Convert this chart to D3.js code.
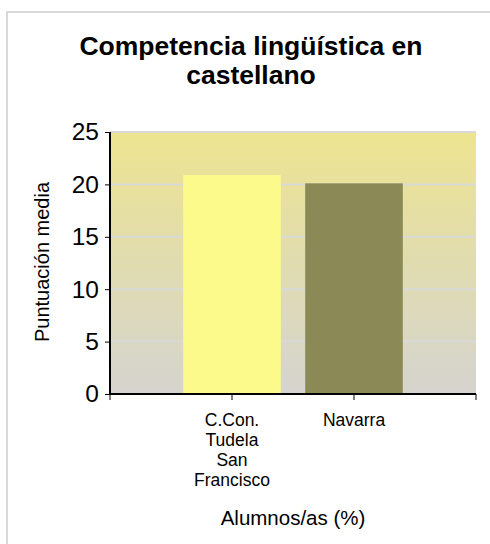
<!DOCTYPE html>
<html>
<head>
<meta charset="utf-8">
<script src="https://cdn.jsdelivr.net/npm/d3@7"></script>
<style>
  body { margin: 0; background: #fff; }
  svg { display: block; font-family: "Liberation Sans", Arial, sans-serif; }
</style>
</head>
<body>
<div id="chart"></div>
<script>
(function() {
  // chart data
  var categories = ['C.Con. Tudela San Francisco', 'Navarra'];
  var categoryLines = [['C.Con.', 'Tudela', 'San', 'Francisco'], ['Navarra']];
  var values = [20.9, 20.1];
  var barColors = ['#fdfa8c', '#8b8a56'];
  var yTicks = [0, 5, 10, 15, 20, 25];

  var width = 490;
  var height = 544;
  var margin = { top: 132, right: 14, bottom: 150, left: 110 };
  var plotW = width - margin.left - margin.right;
  var plotH = height - margin.top - margin.bottom;

  var svg = d3.select('#chart').append('svg')
    .attr('width', width)
    .attr('height', height);

  // gradient for plot background
  var grad = svg.append('defs').append('linearGradient')
    .attr('id', 'bg')
    .attr('x1', 0).attr('y1', 0).attr('x2', 0).attr('y2', 1);
  grad.append('stop').attr('offset', '0%').attr('stop-color', '#ede490');
  grad.append('stop').attr('offset', '100%').attr('stop-color', '#d5d4cf');

  // outer frame (only left and top edges are visible)
  svg.append('path')
    .attr('d', 'M7,' + height + 'V12H' + width)
    .attr('fill', 'none')
    .attr('stroke', '#d9d9d9')
    .attr('stroke-width', 2);

  var x = d3.scalePoint().domain(categories).range([0, plotW]).padding(1);
  var y = d3.scaleLinear().domain([0, 25]).range([plotH, 0]);
  var barW = x.step() * 0.8;

  var g = svg.append('g').attr('transform', 'translate(' + margin.left + ',' + margin.top + ')');

  g.append('rect')
    .attr('width', plotW)
    .attr('height', plotH)
    .attr('fill', 'url(#bg)');

  // gridlines
  g.selectAll('.grid')
    .data(yTicks.slice(1))
    .enter().append('line')
    .attr('class', 'grid')
    .attr('x1', 0).attr('x2', plotW)
    .attr('y1', function(d) { return y(d); })
    .attr('y2', function(d) { return y(d); })
    .attr('stroke', '#d9d9d9')
    .attr('stroke-width', 2);

  // bars
  g.selectAll('.bar')
    .data(values)
    .enter().append('rect')
    .attr('class', 'bar')
    .attr('x', function(d, i) { return x(categories[i]) - barW / 2; })
    .attr('y', function(d) { return y(d); })
    .attr('width', barW)
    .attr('height', function(d) { return plotH - y(d); })
    .attr('fill', function(d, i) { return barColors[i]; });

  // y axis
  var yAxis = g.append('g')
    .call(d3.axisLeft(y).tickValues(yTicks).tickSize(5).tickPadding(6));
  yAxis.select('.domain').attr('stroke', '#000').attr('stroke-width', 2).attr('d', 'M0,0V' + plotH);
  yAxis.selectAll('.tick line').attr('stroke', '#000');
  yAxis.selectAll('.tick text')
    .attr('font-size', 24.5)
    .attr('fill', '#000')
    .attr('font-family', '"Liberation Sans", Arial, sans-serif');

  // x axis: ticks at band boundaries
  var bounds = [0, 1, 2, 3].map(function(i) { return i * x.step(); });
  var xAxis = g.append('g').attr('transform', 'translate(0,' + plotH + ')');
  xAxis.append('line')
    .attr('x1', -1).attr('x2', plotW)
    .attr('stroke', '#000').attr('stroke-width', 2);
  xAxis.selectAll('.xtick')
    .data(bounds)
    .enter().append('line')
    .attr('x1', function(d) { return d; })
    .attr('x2', function(d) { return d; })
    .attr('y1', 0).attr('y2', 6)
    .attr('stroke', '#000');

  // category labels
  var lbl = xAxis.selectAll('.xlabel')
    .data(categories)
    .enter().append('text')
    .attr('class', 'xlabel')
    .attr('text-anchor', 'middle')
    .attr('font-size', 17.5)
    .attr('fill', '#000');
  lbl.each(function(d, i) {
    var t = d3.select(this);
    categoryLines[i].forEach(function(line, j) {
      t.append('tspan')
        .attr('x', x(d))
        .attr('y', 32 + j * 20)
        .text(line);
    });
  });

  // titles
  svg.append('text')
    .attr('x', 251).attr('y', 55)
    .attr('text-anchor', 'middle')
    .attr('font-size', 26.5).attr('font-weight', 'bold')
    .text('Competencia lingüística en');
  svg.append('text')
    .attr('x', 251).attr('y', 84)
    .attr('text-anchor', 'middle')
    .attr('font-size', 26.5).attr('font-weight', 'bold')
    .text('castellano');

  svg.append('text')
    .attr('transform', 'translate(49,262) rotate(-90)')
    .attr('text-anchor', 'middle')
    .attr('font-size', 20)
    .text('Puntuación media');

  svg.append('text')
    .attr('x', 293).attr('y', 525)
    .attr('text-anchor', 'middle')
    .attr('font-size', 20.5)
    .text('Alumnos/as (%)');
})();
</script>
</body>
</html>
